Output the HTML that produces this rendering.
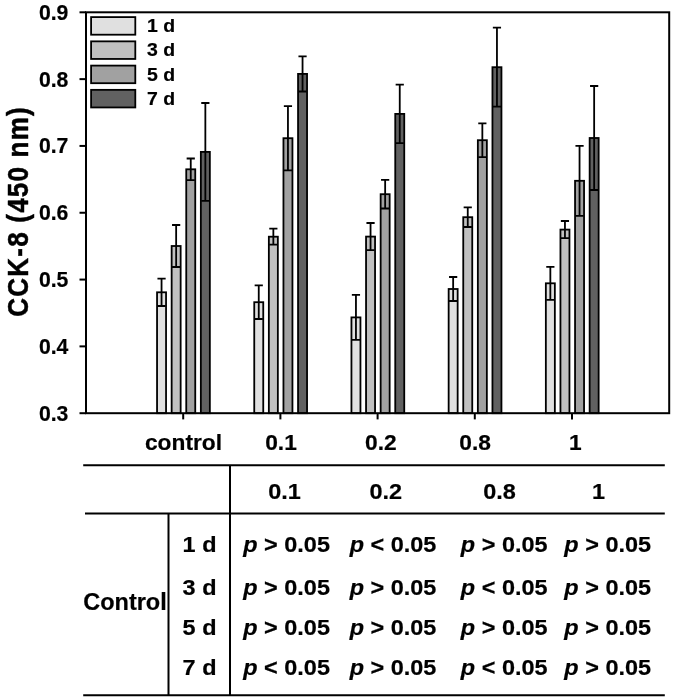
<!DOCTYPE html>
<html lang="en"><head><meta charset="utf-8"><title>CCK-8 chart</title>
<style>html,body{margin:0;padding:0;background:#fff}svg{display:block}</style></head><body>
<svg width="674" height="699" viewBox="0 0 674 699">
<rect width="674" height="699" fill="#fff"/>
<g stroke="#000" stroke-width="1.80">
<rect x="157.05" y="292.30" width="9.00" height="120.90" fill="#e0e0e0"/>
<rect x="171.65" y="246.00" width="9.00" height="167.20" fill="#c0c0c0"/>
<rect x="186.25" y="169.30" width="9.00" height="243.90" fill="#a1a1a1"/>
<rect x="200.85" y="151.90" width="9.00" height="261.30" fill="#616161"/>
<rect x="254.25" y="302.20" width="9.00" height="111.00" fill="#e0e0e0"/>
<rect x="268.85" y="236.70" width="9.00" height="176.50" fill="#c0c0c0"/>
<rect x="283.45" y="138.20" width="9.00" height="275.00" fill="#a1a1a1"/>
<rect x="298.05" y="73.90" width="9.00" height="339.30" fill="#616161"/>
<rect x="351.45" y="317.40" width="9.00" height="95.80" fill="#e0e0e0"/>
<rect x="366.05" y="236.60" width="9.00" height="176.60" fill="#c0c0c0"/>
<rect x="380.65" y="194.20" width="9.00" height="219.00" fill="#a1a1a1"/>
<rect x="395.25" y="113.90" width="9.00" height="299.30" fill="#616161"/>
<rect x="448.65" y="289.00" width="9.00" height="124.20" fill="#e0e0e0"/>
<rect x="463.25" y="217.20" width="9.00" height="196.00" fill="#c0c0c0"/>
<rect x="477.85" y="140.20" width="9.00" height="273.00" fill="#a1a1a1"/>
<rect x="492.45" y="67.20" width="9.00" height="346.00" fill="#616161"/>
<rect x="545.85" y="283.30" width="9.00" height="129.90" fill="#e0e0e0"/>
<rect x="560.45" y="229.60" width="9.00" height="183.60" fill="#c0c0c0"/>
<rect x="575.05" y="180.80" width="9.00" height="232.40" fill="#a1a1a1"/>
<rect x="589.65" y="138.00" width="9.00" height="275.20" fill="#616161"/>
</g>
<g stroke="#000" stroke-width="1.8" fill="none">
<path d="M161.55 278.60V306.00M157.45 278.60h8.20M157.45 306.00h8.20"/>
<path d="M176.15 225.00V267.00M172.05 225.00h8.20M172.05 267.00h8.20"/>
<path d="M190.75 158.50V180.10M186.65 158.50h8.20M186.65 180.10h8.20"/>
<path d="M205.35 103.00V200.80M201.25 103.00h8.20M201.25 200.80h8.20"/>
<path d="M258.75 285.40V319.00M254.65 285.40h8.20M254.65 319.00h8.20"/>
<path d="M273.35 228.70V244.70M269.25 228.70h8.20M269.25 244.70h8.20"/>
<path d="M287.95 106.10V170.30M283.85 106.10h8.20M283.85 170.30h8.20"/>
<path d="M302.55 56.30V91.50M298.45 56.30h8.20M298.45 91.50h8.20"/>
<path d="M355.95 294.90V339.90M351.85 294.90h8.20M351.85 339.90h8.20"/>
<path d="M370.55 223.00V250.20M366.45 223.00h8.20M366.45 250.20h8.20"/>
<path d="M385.15 179.90V208.50M381.05 179.90h8.20M381.05 208.50h8.20"/>
<path d="M399.75 84.70V143.10M395.65 84.70h8.20M395.65 143.10h8.20"/>
<path d="M453.15 277.00V301.00M449.05 277.00h8.20M449.05 301.00h8.20"/>
<path d="M467.75 207.40V227.00M463.65 207.40h8.20M463.65 227.00h8.20"/>
<path d="M482.35 123.30V157.10M478.25 123.30h8.20M478.25 157.10h8.20"/>
<path d="M496.95 27.70V106.70M492.85 27.70h8.20M492.85 106.70h8.20"/>
<path d="M550.35 266.80V299.80M546.25 266.80h8.20M546.25 299.80h8.20"/>
<path d="M564.95 221.00V238.20M560.85 221.00h8.20M560.85 238.20h8.20"/>
<path d="M579.55 145.80V215.80M575.45 145.80h8.20M575.45 215.80h8.20"/>
<path d="M594.15 86.00V190.00M590.05 86.00h8.20M590.05 190.00h8.20"/>
</g>
<rect x="86.00" y="12.30" width="583.20" height="400.90" fill="none" stroke="#000" stroke-width="2"/>
<g stroke="#000" stroke-width="2">
<line x1="79.5" x2="86.00" y1="12.30" y2="12.30"/>
<line x1="79.5" x2="86.00" y1="79.12" y2="79.12"/>
<line x1="79.5" x2="86.00" y1="145.93" y2="145.93"/>
<line x1="79.5" x2="86.00" y1="212.75" y2="212.75"/>
<line x1="79.5" x2="86.00" y1="279.57" y2="279.57"/>
<line x1="79.5" x2="86.00" y1="346.38" y2="346.38"/>
<line x1="79.5" x2="86.00" y1="413.20" y2="413.20"/>
<line x1="183.20" x2="183.20" y1="413.20" y2="419.4"/>
<line x1="280.40" x2="280.40" y1="413.20" y2="419.4"/>
<line x1="377.60" x2="377.60" y1="413.20" y2="419.4"/>
<line x1="474.80" x2="474.80" y1="413.20" y2="419.4"/>
<line x1="572.00" x2="572.00" y1="413.20" y2="419.4"/>
</g>
<text transform="translate(68.40 19.85) scale(1.000 1)" font-size="21.20" text-anchor="end" stroke="#000" stroke-width="0.2" stroke-linejoin="round" font-family="Liberation Sans, Arial, Helvetica, sans-serif" font-weight="bold" >0.9</text>
<text transform="translate(68.40 86.67) scale(1.000 1)" font-size="21.20" text-anchor="end" stroke="#000" stroke-width="0.2" stroke-linejoin="round" font-family="Liberation Sans, Arial, Helvetica, sans-serif" font-weight="bold" >0.8</text>
<text transform="translate(68.40 153.48) scale(1.000 1)" font-size="21.20" text-anchor="end" stroke="#000" stroke-width="0.2" stroke-linejoin="round" font-family="Liberation Sans, Arial, Helvetica, sans-serif" font-weight="bold" >0.7</text>
<text transform="translate(68.40 220.30) scale(1.000 1)" font-size="21.20" text-anchor="end" stroke="#000" stroke-width="0.2" stroke-linejoin="round" font-family="Liberation Sans, Arial, Helvetica, sans-serif" font-weight="bold" >0.6</text>
<text transform="translate(68.40 287.12) scale(1.000 1)" font-size="21.20" text-anchor="end" stroke="#000" stroke-width="0.2" stroke-linejoin="round" font-family="Liberation Sans, Arial, Helvetica, sans-serif" font-weight="bold" >0.5</text>
<text transform="translate(68.40 353.93) scale(1.000 1)" font-size="21.20" text-anchor="end" stroke="#000" stroke-width="0.2" stroke-linejoin="round" font-family="Liberation Sans, Arial, Helvetica, sans-serif" font-weight="bold" >0.4</text>
<text transform="translate(68.40 420.75) scale(1.000 1)" font-size="21.20" text-anchor="end" stroke="#000" stroke-width="0.2" stroke-linejoin="round" font-family="Liberation Sans, Arial, Helvetica, sans-serif" font-weight="bold" >0.3</text>
<text transform="translate(183.50 449.90) scale(1.035 1)" font-size="22.00" text-anchor="middle" stroke="#000" stroke-width="0.2" stroke-linejoin="round" font-family="Liberation Sans, Arial, Helvetica, sans-serif" font-weight="bold" >control</text>
<text transform="translate(281.00 449.90) scale(1.035 1)" font-size="22.00" text-anchor="middle" stroke="#000" stroke-width="0.2" stroke-linejoin="round" font-family="Liberation Sans, Arial, Helvetica, sans-serif" font-weight="bold" >0.1</text>
<text transform="translate(380.90 449.90) scale(1.035 1)" font-size="22.00" text-anchor="middle" stroke="#000" stroke-width="0.2" stroke-linejoin="round" font-family="Liberation Sans, Arial, Helvetica, sans-serif" font-weight="bold" >0.2</text>
<text transform="translate(475.10 449.90) scale(1.035 1)" font-size="22.00" text-anchor="middle" stroke="#000" stroke-width="0.2" stroke-linejoin="round" font-family="Liberation Sans, Arial, Helvetica, sans-serif" font-weight="bold" >0.8</text>
<text transform="translate(575.30 449.90) scale(1.035 1)" font-size="22.00" text-anchor="middle" stroke="#000" stroke-width="0.2" stroke-linejoin="round" font-family="Liberation Sans, Arial, Helvetica, sans-serif" font-weight="bold" >1</text>
<text transform="translate(27.5 211.4) rotate(-90) scale(1 1.15)" font-size="26.1" text-anchor="middle" style="letter-spacing:1.18px" stroke="#000" stroke-width="0.4" stroke-linejoin="round" font-family="Liberation Sans, Arial, Helvetica, sans-serif" font-weight="bold">CCK-8 (450 nm)</text>
<g stroke="#000" stroke-width="1.8">
<rect x="91.1" y="17.10" width="44.2" height="17.6" fill="#e0e0e0"/>
<rect x="91.1" y="41.35" width="44.2" height="17.6" fill="#c0c0c0"/>
<rect x="91.1" y="65.60" width="44.2" height="17.6" fill="#a1a1a1"/>
<rect x="91.1" y="89.85" width="44.2" height="17.6" fill="#616161"/>
</g>
<text transform="translate(147.00 32.00) scale(1.080 1)" font-size="18.00" text-anchor="start" stroke="#000" stroke-width="0.2" stroke-linejoin="round" font-family="Liberation Sans, Arial, Helvetica, sans-serif" font-weight="bold" >1 d</text>
<text transform="translate(147.00 56.30) scale(1.080 1)" font-size="18.00" text-anchor="start" stroke="#000" stroke-width="0.2" stroke-linejoin="round" font-family="Liberation Sans, Arial, Helvetica, sans-serif" font-weight="bold" >3 d</text>
<text transform="translate(147.00 80.60) scale(1.080 1)" font-size="18.00" text-anchor="start" stroke="#000" stroke-width="0.2" stroke-linejoin="round" font-family="Liberation Sans, Arial, Helvetica, sans-serif" font-weight="bold" >5 d</text>
<text transform="translate(147.00 104.90) scale(1.080 1)" font-size="18.00" text-anchor="start" stroke="#000" stroke-width="0.2" stroke-linejoin="round" font-family="Liberation Sans, Arial, Helvetica, sans-serif" font-weight="bold" >7 d</text>
<g stroke="#000" stroke-width="2">
<line x1="83.2" x2="664.8" y1="465.2" y2="465.2"/>
<line x1="85.0" x2="664.8" y1="513.6" y2="513.6"/>
<line x1="83.2" x2="664.8" y1="695.2" y2="695.2"/>
<line x1="168.5" x2="168.5" y1="513.6" y2="695.2"/>
<line x1="230.0" x2="230.0" y1="465.2" y2="695.2"/>
</g>
<text transform="translate(284.60 498.60) scale(1.043 1)" font-size="22.50" text-anchor="middle" stroke="#000" stroke-width="0.2" stroke-linejoin="round" font-family="Liberation Sans, Arial, Helvetica, sans-serif" font-weight="bold" >0.1</text>
<text transform="translate(385.80 498.60) scale(1.043 1)" font-size="22.50" text-anchor="middle" stroke="#000" stroke-width="0.2" stroke-linejoin="round" font-family="Liberation Sans, Arial, Helvetica, sans-serif" font-weight="bold" >0.2</text>
<text transform="translate(499.50 498.60) scale(1.043 1)" font-size="22.50" text-anchor="middle" stroke="#000" stroke-width="0.2" stroke-linejoin="round" font-family="Liberation Sans, Arial, Helvetica, sans-serif" font-weight="bold" >0.8</text>
<text transform="translate(598.60 498.60) scale(1.043 1)" font-size="22.50" text-anchor="middle" stroke="#000" stroke-width="0.2" stroke-linejoin="round" font-family="Liberation Sans, Arial, Helvetica, sans-serif" font-weight="bold" >1</text>
<text transform="translate(182.60 552.30) scale(1.043 1)" font-size="22.50" text-anchor="start" stroke="#000" stroke-width="0.2" stroke-linejoin="round" font-family="Liberation Sans, Arial, Helvetica, sans-serif" font-weight="bold" >1 d</text>
<text transform="translate(286.60 552.30) scale(1.043 1)" font-size="22.50" text-anchor="middle" stroke="#000" stroke-width="0.2" stroke-linejoin="round" font-family="Liberation Sans, Arial, Helvetica, sans-serif" font-weight="bold" ><tspan font-style="italic">p</tspan> &gt; 0.05</text>
<text transform="translate(393.00 552.30) scale(1.043 1)" font-size="22.50" text-anchor="middle" stroke="#000" stroke-width="0.2" stroke-linejoin="round" font-family="Liberation Sans, Arial, Helvetica, sans-serif" font-weight="bold" ><tspan font-style="italic">p</tspan> &lt; 0.05</text>
<text transform="translate(504.20 552.30) scale(1.043 1)" font-size="22.50" text-anchor="middle" stroke="#000" stroke-width="0.2" stroke-linejoin="round" font-family="Liberation Sans, Arial, Helvetica, sans-serif" font-weight="bold" ><tspan font-style="italic">p</tspan> &gt; 0.05</text>
<text transform="translate(607.70 552.30) scale(1.043 1)" font-size="22.50" text-anchor="middle" stroke="#000" stroke-width="0.2" stroke-linejoin="round" font-family="Liberation Sans, Arial, Helvetica, sans-serif" font-weight="bold" ><tspan font-style="italic">p</tspan> &gt; 0.05</text>
<text transform="translate(182.60 594.70) scale(1.043 1)" font-size="22.50" text-anchor="start" stroke="#000" stroke-width="0.2" stroke-linejoin="round" font-family="Liberation Sans, Arial, Helvetica, sans-serif" font-weight="bold" >3 d</text>
<text transform="translate(286.60 594.70) scale(1.043 1)" font-size="22.50" text-anchor="middle" stroke="#000" stroke-width="0.2" stroke-linejoin="round" font-family="Liberation Sans, Arial, Helvetica, sans-serif" font-weight="bold" ><tspan font-style="italic">p</tspan> &gt; 0.05</text>
<text transform="translate(393.00 594.70) scale(1.043 1)" font-size="22.50" text-anchor="middle" stroke="#000" stroke-width="0.2" stroke-linejoin="round" font-family="Liberation Sans, Arial, Helvetica, sans-serif" font-weight="bold" ><tspan font-style="italic">p</tspan> &gt; 0.05</text>
<text transform="translate(504.20 594.70) scale(1.043 1)" font-size="22.50" text-anchor="middle" stroke="#000" stroke-width="0.2" stroke-linejoin="round" font-family="Liberation Sans, Arial, Helvetica, sans-serif" font-weight="bold" ><tspan font-style="italic">p</tspan> &lt; 0.05</text>
<text transform="translate(607.70 594.70) scale(1.043 1)" font-size="22.50" text-anchor="middle" stroke="#000" stroke-width="0.2" stroke-linejoin="round" font-family="Liberation Sans, Arial, Helvetica, sans-serif" font-weight="bold" ><tspan font-style="italic">p</tspan> &gt; 0.05</text>
<text transform="translate(182.60 634.90) scale(1.043 1)" font-size="22.50" text-anchor="start" stroke="#000" stroke-width="0.2" stroke-linejoin="round" font-family="Liberation Sans, Arial, Helvetica, sans-serif" font-weight="bold" >5 d</text>
<text transform="translate(286.60 634.90) scale(1.043 1)" font-size="22.50" text-anchor="middle" stroke="#000" stroke-width="0.2" stroke-linejoin="round" font-family="Liberation Sans, Arial, Helvetica, sans-serif" font-weight="bold" ><tspan font-style="italic">p</tspan> &gt; 0.05</text>
<text transform="translate(393.00 634.90) scale(1.043 1)" font-size="22.50" text-anchor="middle" stroke="#000" stroke-width="0.2" stroke-linejoin="round" font-family="Liberation Sans, Arial, Helvetica, sans-serif" font-weight="bold" ><tspan font-style="italic">p</tspan> &gt; 0.05</text>
<text transform="translate(504.20 634.90) scale(1.043 1)" font-size="22.50" text-anchor="middle" stroke="#000" stroke-width="0.2" stroke-linejoin="round" font-family="Liberation Sans, Arial, Helvetica, sans-serif" font-weight="bold" ><tspan font-style="italic">p</tspan> &gt; 0.05</text>
<text transform="translate(607.70 634.90) scale(1.043 1)" font-size="22.50" text-anchor="middle" stroke="#000" stroke-width="0.2" stroke-linejoin="round" font-family="Liberation Sans, Arial, Helvetica, sans-serif" font-weight="bold" ><tspan font-style="italic">p</tspan> &gt; 0.05</text>
<text transform="translate(182.60 674.90) scale(1.043 1)" font-size="22.50" text-anchor="start" stroke="#000" stroke-width="0.2" stroke-linejoin="round" font-family="Liberation Sans, Arial, Helvetica, sans-serif" font-weight="bold" >7 d</text>
<text transform="translate(286.60 674.90) scale(1.043 1)" font-size="22.50" text-anchor="middle" stroke="#000" stroke-width="0.2" stroke-linejoin="round" font-family="Liberation Sans, Arial, Helvetica, sans-serif" font-weight="bold" ><tspan font-style="italic">p</tspan> &lt; 0.05</text>
<text transform="translate(393.00 674.90) scale(1.043 1)" font-size="22.50" text-anchor="middle" stroke="#000" stroke-width="0.2" stroke-linejoin="round" font-family="Liberation Sans, Arial, Helvetica, sans-serif" font-weight="bold" ><tspan font-style="italic">p</tspan> &gt; 0.05</text>
<text transform="translate(504.20 674.90) scale(1.043 1)" font-size="22.50" text-anchor="middle" stroke="#000" stroke-width="0.2" stroke-linejoin="round" font-family="Liberation Sans, Arial, Helvetica, sans-serif" font-weight="bold" ><tspan font-style="italic">p</tspan> &lt; 0.05</text>
<text transform="translate(607.70 674.90) scale(1.043 1)" font-size="22.50" text-anchor="middle" stroke="#000" stroke-width="0.2" stroke-linejoin="round" font-family="Liberation Sans, Arial, Helvetica, sans-serif" font-weight="bold" ><tspan font-style="italic">p</tspan> &gt; 0.05</text>
<text transform="translate(83.20 610.00) scale(1.022 1)" font-size="23.00" text-anchor="start" stroke="#000" stroke-width="0.2" stroke-linejoin="round" font-family="Liberation Sans, Arial, Helvetica, sans-serif" font-weight="bold" >Control</text>
</svg></body></html>
